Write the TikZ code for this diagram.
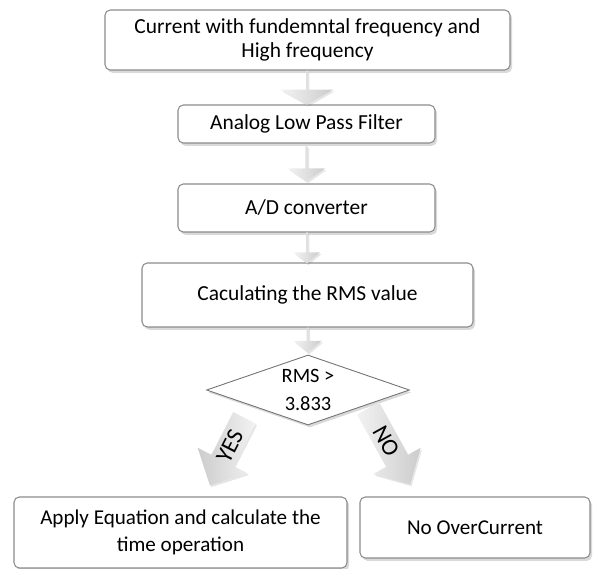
\documentclass[tikz,border=0pt]{standalone}
\usepackage{fontspec}
\setmainfont{Carlito}
\usetikzlibrary{shapes.geometric, shapes.arrows, shadows, calc}
\tikzstyle{roundblock} = [draw=black!45, fill=white, rounded corners=3pt, line width=0.6pt, align=center, inner sep=0, drop shadow={opacity=0.3, shadow xshift=1.2pt, shadow yshift=-1.6pt}]
\tikzstyle{decision} = [draw=black!55, fill=white, diamond, aspect=2.9, line width=0.5pt, align=center, inner sep=0, minimum width=4.06cm, minimum height=1.4cm, drop shadow={opacity=0.3, shadow xshift=1pt, shadow yshift=-1.4pt}]
\tikzstyle{blockarrow} = [single arrow, draw=none, left color=black!5, right color=black!20, inner sep=0, drop shadow={opacity=0.2, shadow xshift=0.8pt, shadow yshift=-1pt}]
\tikzstyle{widetext} = [font=\fontsize{12}{15.4}\selectfont]
\tikzstyle{answertext} = [font=\fontsize{13.5}{15}\selectfont]

\begin{document}
\begin{tikzpicture}[font=\fontsize{12.2}{13.8}\selectfont]
      \useasboundingbox (0, 0) rectangle (12, -11.38);
      \node[roundblock, minimum width=8.1cm, minimum height=1.2cm] (curr) at (6.15, -0.80) {Current with fundemntal frequency and\\High frequency};
      \node[roundblock, minimum width=5.14cm, minimum height=0.76cm] (lpf) at (6.13, -2.48) {Analog Low Pass Filter};
      \node[roundblock, minimum width=5.14cm, minimum height=0.96cm] (adc) at (6.13, -4.16) {A/D converter};
      \node[roundblock, minimum width=6.62cm, minimum height=1.28cm] (rms) at (6.15, -5.90) {Caculating the RMS value};
      \node[decision, font=\fontsize{11.6}{13.8}\selectfont] (check) at (6.16, -7.80) {RMS >\\[2pt]3.833};
      \node[roundblock, widetext, minimum width=6.66cm, minimum height=1.42cm] (apply) at (3.61, -10.65) {Apply Equation and calculate the\\time operation};
      \node[roundblock, widetext, minimum width=4.6cm, minimum height=1.22cm] (noover) at (9.50, -10.55) {No OverCurrent};

      \node[blockarrow, rotate=-90, minimum height=0.68cm, minimum width=1.04cm, single arrow head extend=0.2cm, single arrow tip angle=120] (arr1) at ($(curr.south)!0.5!(lpf.north)$) {};
      \node[blockarrow, rotate=-90, minimum height=0.70cm, minimum width=0.74cm, single arrow head extend=0.1cm, single arrow tip angle=110] (arr2) at ($(lpf.south)!0.5!(adc.north)$) {};
      \node[blockarrow, rotate=-90, minimum height=0.62cm, minimum width=0.52cm, single arrow head extend=0.09cm, single arrow tip angle=100] (arr3) at ($(adc.south)!0.5!(rms.north)$) {};
      \node[blockarrow, rotate=-90, minimum height=0.50cm, minimum width=0.56cm, single arrow head extend=0.09cm, single arrow tip angle=100] (arr4) at ($(rms.south)!0.45!(check.north)$) {};

      \node[blockarrow, answertext, rotate=63, shape border rotate=180, left color=black!20, right color=black!5, minimum height=1.52cm, minimum width=1.12cm, single arrow head extend=0.2cm] (yes) at (4.6, -8.92) {YES};
      \node[blockarrow, answertext, rotate=-61, minimum height=1.74cm, minimum width=1.08cm, single arrow head extend=0.19cm] (no) at (7.72, -8.82) {NO};
    \end{tikzpicture}
\end{document}
